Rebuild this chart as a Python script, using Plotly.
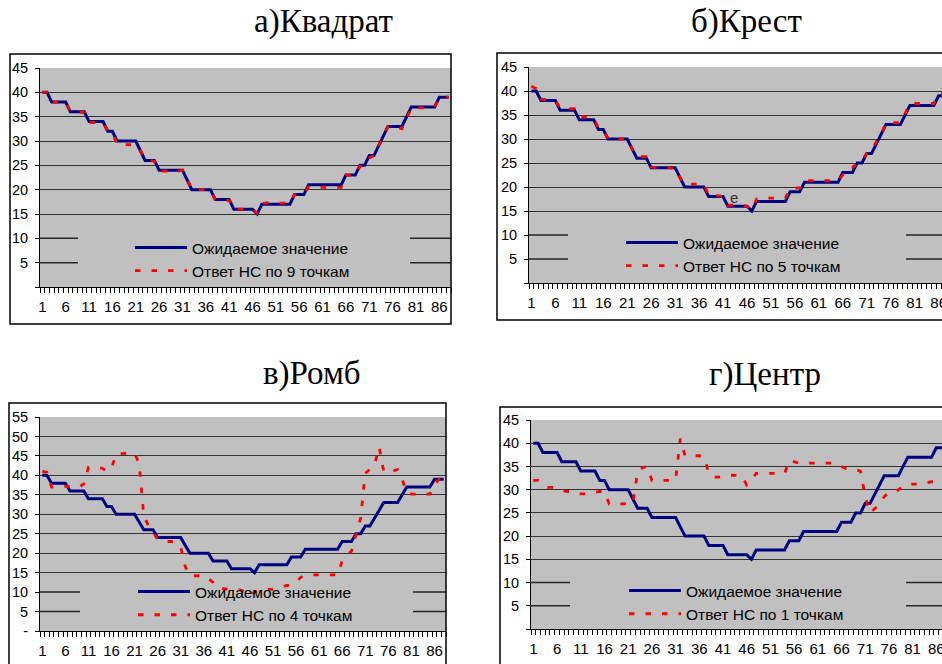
import plotly.graph_objects as go

# Sample index along the contour (88 samples)
categories = list(range(1, 89))
x_tick_values = list(range(1, 87, 5))
x_tick_labels = [str(v) for v in x_tick_values]

# Expected (target) value, shared by all four figures
expected = [40, 40, 38, 38, 38, 38, 36, 36, 36, 36,
            34, 34, 34, 34, 32, 32, 30, 30, 30, 30,
            30, 28, 26, 26, 26, 24, 24, 24, 24, 24,
            24, 22, 20, 20, 20, 20, 20, 18, 18, 18,
            18, 16, 16, 16, 16, 16, 15, 17, 17, 17,
            17, 17, 17, 17, 19, 19, 19, 21, 21, 21,
            21, 21, 21, 21, 21, 23, 23, 23, 25, 25,
            27, 27, 29, 31, 33, 33, 33, 33, 35, 37,
            37, 37, 37, 37, 37, 39, 39, 39]

# Network answers
answer_9 = [40, 40, 38, 38, 38, 38, 36, 36, 36, 35.8,
            33.8, 33.8, 33.8, 33.8, 32, 31.8, 29.3, 29.3, 29.3, 29.3,
            29.2, 28, 26.3, 26, 25.8, 24, 23.8, 23.8, 23.8, 23.8,
            24, 22.2, 20, 20, 20, 20, 19.8, 18, 17.8, 17.8,
            17.8, 16, 16, 16, 16, 16, 15.2, 17.2, 17.3, 17.3,
            17.3, 17.3, 17.2, 17.2, 19, 19, 19.2, 20.5, 20.5, 20.5,
            20.5, 20.5, 20.5, 20.5, 20.5, 23, 23, 23, 24.8, 25,
            26.5, 27, 29, 31, 33, 32.8, 32.8, 32.5, 34.8, 36.8,
            36.8, 36.8, 36.8, 36.8, 37, 38.8, 39, 39]

answer_5 = [41, 40.5, 38.3, 38.2, 38.2, 38, 36.5, 36.3, 36.3, 36.3,
            34.6, 34.6, 34.6, 34.3, 32.3, 32, 30, 30, 30, 30,
            30, 28, 26.3, 26.3, 26.3, 24.2, 24, 24, 24, 24,
            24, 22, 20.6, 20.6, 20.6, 20.6, 20.6, 18.2, 18.2, 18.2,
            18, 16.2, 16.2, 16.2, 16.2, 16, 15.2, 17.5, 17.7, 17.7,
            17.7, 17.7, 17.7, 17.7, 19.7, 19.8, 19.8, 21.3, 21.3, 21.3,
            21.3, 21.3, 21.3, 21.3, 21.3, 22.5, 23.8, 24, 25, 25.5,
            27, 27.5, 29.5, 31, 33.4, 33.4, 33.4, 33.4, 35.3, 37.4,
            37.4, 37.4, 37.4, 37.4, 37.4, 39.5, 39.5, 39.5]

answer_4 = [41, 40.8, 37, 37, 37, 37.2, 37, 36.8, 37, 37.8,
            42, 42.2, 42, 41.8, 41, 41.8, 45.5, 45.6, 45.7, 45.7,
            45.7, 43, 29.5, 27.1, 25.5, 23.5, 23.2, 23, 23, 22.8,
            21.5, 16.5, 14.2, 14.2, 14.2, 14.2, 13.5, 12.5, 11, 10.9,
            10.8, 10.7, 10.7, 10.5, 10, 9, 10, 10.5, 10.7, 10.7,
            10.7, 11, 11.3, 11.7, 11.8, 12.5, 13.8, 14.3, 14.4, 14.4,
            14.4, 14.4, 14.4, 14.4, 14.4, 18, 19.5, 20.5, 25, 29,
            40.5, 41.5, 42.6, 47.3, 41, 40.7, 41, 41.5, 39, 35.5,
            35.2, 35.2, 35.2, 35.2, 35.2, 37.5, 39, 39]

answer_1 = [32, 32, 31.2, 30.5, 30.5, 30.2, 29.8, 29.6, 29.6, 29.4,
            29.1, 29.1, 29.2, 29.4, 29.6, 29.6, 26.9, 26.9, 26.9, 26.9,
            26.9, 27, 34, 34.7, 35, 32, 32, 32, 32, 32,
            32, 41, 37.3, 37.3, 37.3, 37.3, 37.1, 33.5, 32.7, 32.7,
            32.9, 33.1, 33.1, 33.1, 33, 31, 32, 33.5, 33.5, 33.5,
            33.5, 33.5, 33.5, 33.5, 36.3, 36, 35.7, 35.7, 35.7, 35.7,
            35.7, 35.7, 35.7, 35.7, 35.5, 35, 34.5, 34.3, 34.3, 34,
            28.5, 25, 25.8, 26.8, 28.5, 29.4, 29.4, 30, 30.7, 31.2,
            31.2, 31.2, 31.2, 31.5, 31.7, 31.7, 31.7, 31.7]

W, H = 942, 664
SANS = "Liberation Sans, Arial, sans-serif"
SERIF = "Liberation Serif, Times New Roman, serif"
NAVY = "#000080"
RED = "#FF0000"
GRID = "#333333"

# One entry per sub-chart: pixel boxes of the plot area and chart frame
panels = [
    dict(title="а)Квадрат", tx=323, ty=22, answer=answer_9,
         name="Ответ НС по 9 точкам", ymax=45, zero="",
         plot=(40, 68, 451, 287), xmax=88.5,
         frame=(10, 54, 451, 324), gap=(78, 410),
         legend=(130, 231)),
    dict(title="б)Крест", tx=746, ty=22, answer=answer_5,
         name="Ответ НС по 5 точкам", ymax=45, zero="",
         plot=(529, 67, 942, 283), xmax=86.7,
         frame=(497, 53, 960, 320), gap=(568, 906),
         legend=(621, 226)),
    dict(title="в)Ромб", tx=312, ty=373, answer=answer_4,
         name="Ответ НС по 4 точкам", ymax=55, zero="-",
         plot=(40, 417, 446, 631), xmax=88.5,
         frame=(9, 403, 446, 680), gap=(80, 413),
         legend=(133, 575)),
    dict(title="г)Центр", tx=765, ty=374, answer=answer_1,
         name="Ответ НС по 1 точкам", ymax=45, zero="",
         plot=(531, 420, 942, 629), xmax=87.2,
         frame=(500, 407, 960, 680), gap=(570, 906),
         legend=(624, 574)),
]

fig = go.Figure()
shapes = []
annotations = []
layout_axes = {}

for k, p in enumerate(panels, start=1):
    sfx = "" if k == 1 else str(k)
    xname, yname = "x" + sfx, "y" + sfx
    legend_name = "legend" + sfx
    x0, y0, x1, y1 = p["plot"]

    fig.add_trace(go.Scatter(
        x=categories, y=expected, mode="lines", name="Ожидаемое значение",
        line=dict(color=NAVY, width=3), xaxis=xname, yaxis=yname,
        legend=legend_name))
    fig.add_trace(go.Scatter(
        x=categories, y=p["answer"], mode="lines", name=p["name"],
        line=dict(color=RED, width=2.8, dash="5.5px,11px"),
        xaxis=xname, yaxis=yname, legend=legend_name))

    ymax = p["ymax"]
    yt = list(range(0, ymax + 1, 5))
    ytext = [p["zero"]] + [str(v) for v in yt[1:]]

    layout_axes["xaxis" + sfx] = dict(
        domain=[x0 / W, x1 / W], anchor=yname, range=[0.5, p["xmax"]],
        tickmode="array", tickvals=x_tick_values, ticktext=x_tick_labels,
        ticks="", ticklen=0, ticklabelstandoff=6, ticklabeloverflow="allow",
        tickfont=dict(family=SANS, size=15, color="black"),
        showgrid=False, zeroline=False, showline=True,
        linecolor="black", linewidth=1, automargin=False,
        minor=dict(tickmode="linear", tick0=0.5, dtick=1, ticks="outside",
                   ticklen=5, tickcolor="black", tickwidth=1, showgrid=False))
    # full-width grid lines from 15 upwards; 5 and 10 are split around the legend
    layout_axes["yaxis" + sfx] = dict(
        domain=[1 - y1 / H, 1 - y0 / H], anchor=xname, range=[0, ymax],
        tickmode="array", tickvals=yt, ticktext=ytext,
        ticks="outside", ticklen=4, tickcolor="black", ticklabelstandoff=4,
        tickfont=dict(family=SANS, size=14.5, color="black"),
        showgrid=False, zeroline=False, showline=True,
        linecolor="black", linewidth=1, automargin=False,
        minor=dict(tickmode="array", tickvals=yt[3:-1], ticks="",
                   showgrid=True, gridcolor=GRID, gridwidth=1))

    lx, ly = p["legend"]
    layout_axes[legend_name] = dict(
        x=lx / W, y=1 - ly / H, xanchor="left", yanchor="top",
        bgcolor="rgba(0,0,0,0)", borderwidth=0, itemwidth=52,
        tracegroupgap=0, itemclick=False,
        font=dict(family=SANS, size=15.5, color="black"))

    gx0, gx1 = p["gap"]
    span = x1 - x0
    for level in yt[1:3]:
        for a, b in ((0, (gx0 - x0) / span), ((gx1 - x0) / span, 1)):
            shapes.append(dict(
                type="line", layer="below", xref=xname + " domain",
                yref=yname, x0=a, x1=b, y0=level, y1=level,
                line=dict(color="#262626", width=1.5)))

    fx0, fy0, fx1, fy1 = p["frame"]
    shapes.append(dict(
        type="rect", layer="above", xref="paper", yref="paper",
        x0=fx0 / W, x1=fx1 / W, y0=1 - fy1 / H, y1=1 - fy0 / H,
        line=dict(color="black", width=1.5), fillcolor="rgba(0,0,0,0)"))

    annotations.append(dict(
        text=p["title"], xref="paper", yref="paper", x=p["tx"] / W,
        y=1 - p["ty"] / H, xanchor="center", yanchor="middle",
        showarrow=False, font=dict(family=SERIF, size=33, color="black")))

# stray letter inside the "Крест" chart
annotations.append(dict(
    text="e", xref="paper", yref="paper", x=734 / W, y=1 - 197 / H,
    xanchor="center", yanchor="middle", showarrow=False,
    font=dict(family=SANS, size=15, color="#333333")))

fig.update_layout(
    width=W, height=H, autosize=False,
    margin=dict(l=0, r=0, t=0, b=0, pad=0, autoexpand=False),
    paper_bgcolor="white", plot_bgcolor="#C0C0C0",
    showlegend=True, shapes=shapes, annotations=annotations,
    **layout_axes)

fig.write_html("out.html", config=dict(responsive=False))
